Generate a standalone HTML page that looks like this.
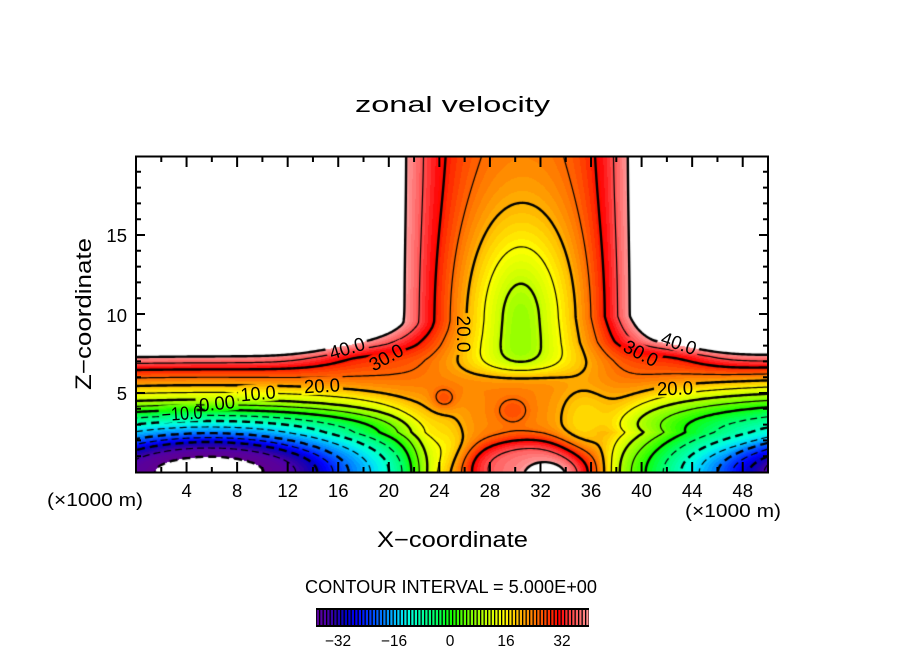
<!DOCTYPE html>
<html><head><meta charset="utf-8">
<style>
html,body{margin:0;padding:0;background:#fff;}
#wrap{position:relative;width:904px;height:654px;overflow:hidden;background:#fff;}
#cv{position:absolute;left:136px;top:157px;width:632px;height:315px;}
#ov{position:absolute;left:0;top:0;}
text{font-family:"Liberation Sans",Arial,sans-serif;fill:#000;}
</style></head><body>
<div id="wrap">
<canvas id="cv" width="632" height="315"></canvas>
<svg id="ov" width="904" height="654" viewBox="0 0 904 654">
<text x="452.5" y="112" font-size="22" text-anchor="middle" textLength="195" lengthAdjust="spacingAndGlyphs">zonal velocity</text>
<g id="clabels" font-size="19">
<text transform="translate(347,348) rotate(-17)" text-anchor="middle" dy="0.36em" textLength="36" lengthAdjust="spacingAndGlyphs">40.0</text>
<text transform="translate(386,357) rotate(-29)" text-anchor="middle" dy="0.36em" textLength="36" lengthAdjust="spacingAndGlyphs">30.0</text>
<text transform="translate(322,385.5) rotate(-3)" text-anchor="middle" dy="0.36em" textLength="36" lengthAdjust="spacingAndGlyphs">20.0</text>
<text transform="translate(258,393) rotate(-5)" text-anchor="middle" dy="0.36em" textLength="35" lengthAdjust="spacingAndGlyphs">10.0</text>
<text transform="translate(217,403) rotate(-6)" text-anchor="middle" dy="0.36em" textLength="36" lengthAdjust="spacingAndGlyphs">0.00</text>
<text transform="translate(182,413) rotate(-4)" text-anchor="middle" dy="0.36em" textLength="41" lengthAdjust="spacingAndGlyphs">−10.0</text>
<text transform="translate(464,334) rotate(90)" text-anchor="middle" dy="0.36em" textLength="37" lengthAdjust="spacingAndGlyphs">20.0</text>
<text transform="translate(679,343) rotate(19)" text-anchor="middle" dy="0.36em" textLength="36" lengthAdjust="spacingAndGlyphs">40.0</text>
<text transform="translate(641,353) rotate(28)" text-anchor="middle" dy="0.36em" textLength="36" lengthAdjust="spacingAndGlyphs">30.0</text>
<text transform="translate(675,388) rotate(-2)" text-anchor="middle" dy="0.36em" textLength="36" lengthAdjust="spacingAndGlyphs">20.0</text>
</g>
<rect x="136" y="156.5" width="632" height="316" fill="none" stroke="#000" stroke-width="2"/>
<path id="ticks" d="" stroke="#000" stroke-width="2" fill="none"/>
<g font-size="18.5">
<text x="127" y="400" text-anchor="end">5</text>
<text x="127" y="322" text-anchor="end">10</text>
<text x="127" y="242" text-anchor="end">15</text>
<text x="186.6" y="497" text-anchor="middle">4</text>
<text x="237.1" y="497" text-anchor="middle">8</text>
<text x="287.7" y="497" text-anchor="middle">12</text>
<text x="338.2" y="497" text-anchor="middle">16</text>
<text x="388.8" y="497" text-anchor="middle">20</text>
<text x="439.4" y="497" text-anchor="middle">24</text>
<text x="489.9" y="497" text-anchor="middle">28</text>
<text x="540.5" y="497" text-anchor="middle">32</text>
<text x="591" y="497" text-anchor="middle">36</text>
<text x="641.6" y="497" text-anchor="middle">40</text>
<text x="692.2" y="497" text-anchor="middle">44</text>
<text x="742.7" y="497" text-anchor="middle">48</text>
<text x="47" y="506" textLength="96" lengthAdjust="spacingAndGlyphs">(×1000 m)</text>
<text x="685" y="517" textLength="96" lengthAdjust="spacingAndGlyphs">(×1000 m)</text>
</g>
<text x="452.5" y="547" font-size="22" text-anchor="middle" textLength="151" lengthAdjust="spacingAndGlyphs">X−coordinate</text>
<text transform="translate(91,314) rotate(-90)" font-size="22" text-anchor="middle" textLength="152" lengthAdjust="spacingAndGlyphs">Z−coordinate</text>
<text x="451" y="593" font-size="18" text-anchor="middle" textLength="292" lengthAdjust="spacingAndGlyphs">CONTOUR INTERVAL = 5.000E+00</text>
<rect x="316" y="608" width="273" height="19" fill="#000"/>
<g id="cbar"></g>
<g font-size="15.5" text-anchor="middle">
<text x="338" y="646">−32</text>
<text x="394" y="646">−16</text>
<text x="450" y="646">0</text>
<text x="506" y="646">16</text>
<text x="562" y="646">32</text>
</g>
</svg>
</div>
<script>
(function(){
var W=632,H=315,SX=12.64,SZ=15.8;
function tab(xs,ys,v){if(v<=xs[0])return ys[0];for(var i=1;i<xs.length;i++){if(v<=xs[i]){var t=(v-xs[i-1])/(xs[i]-xs[i-1]);return ys[i-1]+t*(ys[i]-ys[i-1]);}}return ys[ys.length-1];}
var QLs=[0,0.5,0.95,1.289,1.9,2.45,3.09,3.93,4.578,5.496,6.496,7.307,8.2,9.5,50];
var QLu=[-47,-44.5,-40,-38,-30,-20,-12,0,10,20,30,40,55,70,70];
var QRs=[0,1.84,2.05,2.946,4.3,5.075,5.883,6.659,7.443,8.5,10,50];
var QRu=[-38,-33,-28,-13,0,10,20,30,40,58,70,70];
function sm(t){t=t<0?0:t>1?1:t;return t*t*(3-2*t);}
function g(x,z,cx,cz,sx,sz){var a=(x-cx)/sx,b=(z-cz)/sz;return Math.exp(-0.5*(a*a+b*b));}
function env(x,z){
  var kl=4.5+Math.max(0,z-2.5),kr=3.8+Math.max(0,z-2.5);
  var sl=Math.hypot((x-5.8)/kl,z),sr=Math.hypot((x-57)/kr,z);
  var v=Math.min(tab(QLs,QLu,sl),tab(QRs,QRu,sr));
  v-=9*g(x,z,18.5,7.7,3.5,0.9);
  v-=8*g(x,z,42,7.6,2.8,0.9);
  v-=6*g(x,z,46.5,0,3.5,1.3);
  return v;
}
function col(x,z){
  var u=23;
  var dz=z-9.5;
  var ez=dz>=0?Math.exp(-0.5*(dz/5.0)*(dz/5.0)):Math.exp(-0.5*Math.pow(-dz/2.98,6));
  var ezn=dz>=0?Math.exp(-0.5*(dz/2.5)*(dz/2.5)):Math.exp(-0.5*Math.pow(-dz/2.5,6));
  var ax=(x-30.4)/3.9,an=(x-30.4)/1.3;
  u-=15*Math.exp(-0.5*ax*ax)*ez+3*Math.exp(-0.5*an*an)*ezn;
  var bx=(x-31.2)/4.6,bzz=(z-0.2)/1.7,r2=bx*bx+bzz*bzz;
  u+=14*Math.exp(-0.5*r2*r2);
  u+=7*g(x,z,32.65,-0.2,1.5,0.7);
  u+=4*g(x,z,29.8,3.9,0.9,0.6);
  u+=6*g(x,z,24.3,4.6,0.7,0.5);
  u-=6*g(x,z,35.5,3.2,1.6,1.8);
  u-=6*g(x,z,24.5,1.5,1.3,1.6);
  return u;
}
function field(x,z){
  var t=sm((z-2)/5);
  var xl=23.0+(19.8-23.0)*t,wl=0.85+(2.8-0.85)*t;
  var xr=37.2+(40.2-37.2)*t,wr=0.6+(2.3-0.6)*t;
  var w=1/(1+Math.exp(-(x-xl)/wl))/(1+Math.exp((x-xr)/wr));
  return w*col(x,z)+(1-w)*env(x,z);
}
var CM=[[-40,96,0,144],[-36,80,0,168],[-33,40,0,168],[-30,0,0,200],[-27,0,0,255],[-23,0,64,255],[-19,0,128,255],[-15,0,208,255],[-12,0,255,224],[-8,0,255,160],[-4,0,255,96],[0,16,255,0],[5,112,255,0],[10,192,255,0],[15,255,255,0],[19,255,192,0],[23,255,132,0],[27,255,72,0],[31,255,0,0],[34,255,64,64],[37,255,112,112],[40,255,160,160]];
function cmap(u){
  if(u<=CM[0][0])return [CM[0][1],CM[0][2],CM[0][3]];
  for(var i=1;i<CM.length;i++){if(u<=CM[i][0]){var a=CM[i-1],b=CM[i],t=(u-a[0])/(b[0]-a[0]);return [Math.round(a[1]+t*(b[1]-a[1])),Math.round(a[2]+t*(b[2]-a[2])),Math.round(a[3]+t*(b[3]-a[3]))];}}
  var l=CM[CM.length-1];return [l[1],l[2],l[3]];
}
var cv=document.getElementById('cv'),ctx=cv.getContext('2d');
var img=ctx.createImageData(W,H),D=img.data;
for(var j=0;j<H;j++){for(var i=0;i<W;i++){
  var x=(i+0.5)/SX,z=(H-j-0.5)/SZ,u=field(x,z),p=(j*W+i)*4,c;
  if(u>40||u<-40)c=[255,255,255];else c=cmap(Math.floor(u)+0.5);
  D[p]=c[0];D[p+1]=c[1];D[p+2]=c[2];D[p+3]=255;
}}
ctx.putImageData(img,0,0);
var gx=317,gy=159,dx=W/(gx-1),dy=H/(gy-1);
var G=new Float32Array(gx*gy);
for(var j=0;j<gy;j++)for(var i=0;i<gx;i++){G[j*gx+i]=field(i*dx/SX,(H-j*dy)/SZ);}
var labs=[[347,348,-17,21],[386,357,-29,21],[322,385.5,-3,21],[258,393,-5,20],[217,403,-6,21],[182,413,-4,23],[464,334,90,21],[679,343,19,21],[641,353,28,21],[675,388,-2,21]];
ctx.save();
ctx.beginPath();ctx.rect(0,0,W,H);
labs.forEach(function(l){
  var cx=l[0]-136,cy=l[1]-157,a=l[2]*Math.PI/180,hw=l[3],hh=9,ca=Math.cos(a),sa=Math.sin(a);
  var pts=[[-hw,-hh],[hw,-hh],[hw,hh],[-hw,hh]];
  pts.forEach(function(q,k){var X=cx+q[0]*ca-q[1]*sa,Y=cy+q[0]*sa+q[1]*ca;if(k===0)ctx.moveTo(X,Y);else ctx.lineTo(X,Y);});
  ctx.closePath();
});
ctx.clip('evenodd');
ctx.strokeStyle='#000';ctx.lineJoin='round';ctx.lineCap='butt';
for(var L=-40;L<=40;L+=5){
  var segA=[],segB=[];
  for(var j=0;j<gy-1;j++){for(var i=0;i<gx-1;i++){
    var a=G[j*gx+i],b=G[j*gx+i+1],c=G[(j+1)*gx+i+1],d=G[(j+1)*gx+i];
    var A=a>L,B=b>L,C=c>L,Dd=d>L;
    if(A===B&&B===C&&C===Dd)continue;
    var top=(j*gx+i)*2,bottom=((j+1)*gx+i)*2,left=(j*gx+i)*2+1,right=(j*gx+i+1)*2+1;
    var e=[];
    if(A!==B)e.push(top);if(B!==C)e.push(right);if(C!==Dd)e.push(bottom);if(Dd!==A)e.push(left);
    if(e.length===2){segA.push(e[0]);segB.push(e[1]);}
    else{var ctr=(a+b+c+d)/4>L;
      if(ctr===A){segA.push(top);segB.push(right);segA.push(bottom);segB.push(left);}
      else{segA.push(top);segB.push(left);segA.push(right);segB.push(bottom);}}
  }}
  var n=segA.length;if(!n)continue;
  var adj=new Map();
  for(var s=0;s<n;s++){var k1=segA[s],k2=segB[s];if(!adj.has(k1))adj.set(k1,[]);adj.get(k1).push(s);if(!adj.has(k2))adj.set(k2,[]);adj.get(k2).push(s);}
  var used=new Uint8Array(n);
  var pos=function(id){var p=id>>1,i=p%gx,j=(p/gx)|0,v0=G[p],v1,t;
    if((id&1)===0){v1=G[p+1];t=(L-v0)/(v1-v0);return [(i+t)*dx,j*dy];}
    v1=G[p+gx];t=(L-v0)/(v1-v0);return [i*dx,(j+t)*dy];};
  var bold=(L%10===0),neg=L<0;
  ctx.lineWidth=bold?2.4:1.2;
  ctx.setLineDash(neg?(bold?[8,5]:[7,4]):[]);
  ctx.beginPath();
  for(var s=0;s<n;s++){
    if(used[s])continue;used[s]=1;
    var fwd=[segA[s],segB[s]],cur=segB[s];
    while(true){var lst=adj.get(cur),nx=-1;for(var q=0;q<lst.length;q++){if(!used[lst[q]]){nx=lst[q];break;}}if(nx<0)break;used[nx]=1;cur=(segA[nx]===cur)?segB[nx]:segA[nx];fwd.push(cur);}
    cur=segA[s];var back=[];
    while(true){var lst=adj.get(cur),nx=-1;for(var q=0;q<lst.length;q++){if(!used[lst[q]]){nx=lst[q];break;}}if(nx<0)break;used[nx]=1;cur=(segA[nx]===cur)?segB[nx]:segA[nx];back.push(cur);}
    var ch=back.reverse().concat(fwd);
    var p0=pos(ch[0]);ctx.moveTo(p0[0],p0[1]);
    for(var m=1;m<ch.length;m++){var pp=pos(ch[m]);ctx.lineTo(pp[0],pp[1]);}
  }
  ctx.stroke();
}
ctx.restore();
var d='';
for(var k=1;k<25;k++){var x=136+k*25.28,Lt=(k%2===0)?10:5;d+='M'+x.toFixed(2)+' 157v'+Lt+'M'+x.toFixed(2)+' 472v'+(-Lt);}
for(var k=1;k<20;k++){var y=472-k*15.8,Lt=(k%5===0)?9:5;d+='M136 '+y.toFixed(2)+'h'+Lt+'M768 '+y.toFixed(2)+'h'+(-Lt);}
document.getElementById('ticks').setAttribute('d',d);
var ns='http://www.w3.org/2000/svg',cb=document.getElementById('cbar');
for(var i=0;i<78;i++){var v=-38+i,c=cmap(v);var r=document.createElementNS(ns,'rect');
  r.setAttribute('x',(316.8+i*3.5).toFixed(2));r.setAttribute('y','610');r.setAttribute('width','2.2');r.setAttribute('height','15');
  r.setAttribute('fill','rgb('+c[0]+','+c[1]+','+c[2]+')');cb.appendChild(r);}
})();
</script>
</body></html>
